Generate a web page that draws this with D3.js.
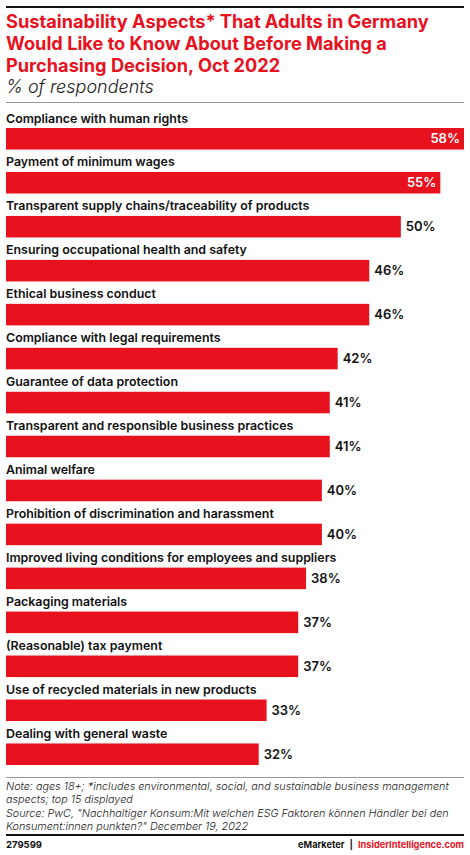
<!DOCTYPE html>
<html>
<head>
<meta charset="utf-8">
<script src="https://cdn.jsdelivr.net/npm/d3@7"></script>
<style>
  body { margin: 0; background: #fff; }
  text { font-family: Inter, Roboto, "Noto Sans", sans-serif; }
</style>
</head>
<body>
<svg id="chart" width="470" height="855"></svg>
<script>
const categories = [
    "Compliance with human rights",
    "Payment of minimum wages",
    "Transparent supply chains/traceability of products",
    "Ensuring occupational health and safety",
    "Ethical business conduct",
    "Compliance with legal requirements",
    "Guarantee of data protection",
    "Transparent and responsible business practices",
    "Animal welfare",
    "Prohibition of discrimination and harassment",
    "Improved living conditions for employees and suppliers",
    "Packaging materials",
    "(Reasonable) tax payment",
    "Use of recycled materials in new products",
    "Dealing with general waste"
];
const values = [58, 55, 50, 46, 46, 42, 41, 41, 40, 40, 38, 37, 37, 33, 32];

const titleLines = [
    "Sustainability Aspects* That Adults in Germany",
    "Would Like to Know About Before Making a",
    "Purchasing Decision, Oct 2022"
];
const subtitle = "% of respondents";
const noteLines = [
    "Note: ages 18+; *includes environmental, social, and sustainable business management",
    "aspects; top 15 displayed",
    "Source: PwC, \"Nachhaltiger Konsum:Mit welchen ESG Faktoren können Händler bei den",
    "Konsument:innen punkten?\" December 19, 2022"
];

const red = "#e8111e";
const svg = d3.select("#chart");

// header
svg.append("rect").attr("x", 6).attr("y", 6).attr("width", 458).attr("height", 2).attr("fill", "#111");
svg.selectAll(".title").data(titleLines).enter()
    .append("text")
    .attr("class", "title")
    .attr("x", 6)
    .attr("y", (d, i) => 28 + i * 22)
    .attr("fill", red)
    .attr("font-size", 18.2)
    .attr("font-weight", 700)
    .text(d => d);
svg.append("text")
    .attr("x", 6).attr("y", 93)
    .attr("font-size", 18)
    .attr("font-style", "italic")
    .attr("font-weight", 300)
    .attr("fill", "#222")
    .text(subtitle);
svg.append("rect").attr("x", 6).attr("y", 102).attr("width", 458).attr("height", 1).attr("fill", "#999");

// bars
const x = d3.scaleLinear().domain([0, 58]).range([6, 464]);
const y = d3.scaleBand().domain(categories).range([128, 765]).paddingInner(0.51).paddingOuter(0);

const rows = svg.selectAll(".row")
    .data(categories.map((c, i) => ({ cat: c, val: values[i] })))
    .enter()
    .append("g")
    .attr("class", "row");

rows.append("text")
    .attr("x", 6)
    .attr("y", d => y(d.cat) - 5.5)
    .attr("font-size", 12.4)
    .attr("font-weight", 600)
    .attr("fill", "#111")
    .text(d => d.cat);

rows.append("rect")
    .attr("x", x(0))
    .attr("y", d => y(d.cat))
    .attr("width", d => x(d.val) - x(0))
    .attr("height", y.bandwidth())
    .attr("fill", red);

rows.append("text")
    .attr("x", d => d.val >= 55 ? x(d.val) - 4 : x(d.val) + 5)
    .attr("y", d => y(d.cat) + y.bandwidth() / 2 + 4.5)
    .attr("text-anchor", d => d.val >= 55 ? "end" : "start")
    .attr("font-size", 13)
    .attr("font-weight", 600)
    .attr("fill", d => d.val >= 55 ? "#fff" : "#111")
    .text(d => d.val + "%");

// footer
svg.append("rect").attr("x", 6).attr("y", 777).attr("width", 458).attr("height", 1).attr("fill", "#999");
svg.selectAll(".note").data(noteLines).enter()
    .append("text")
    .attr("class", "note")
    .attr("x", 6)
    .attr("y", (d, i) => 790 + i * 13.4)
    .attr("font-size", 10.8)
    .attr("font-style", "italic")
    .attr("font-weight", 300)
    .attr("fill", "#222")
    .text(d => d);
svg.append("rect").attr("x", 6).attr("y", 834).attr("width", 458).attr("height", 2).attr("fill", "#111");
svg.append("text")
    .attr("x", 6).attr("y", 848)
    .attr("font-size", 9.5).attr("font-weight", 700).attr("fill", "#111")
    .text("279599");
const brand = svg.append("text")
    .attr("x", 464).attr("y", 848)
    .attr("text-anchor", "end")
    .attr("font-size", 9.2).attr("font-weight", 700);
brand.append("tspan").attr("fill", "#111").text("eMarketer");
brand.append("tspan").attr("fill", "#111").attr("dx", 5).text("|");
brand.append("tspan").attr("fill", red).attr("dx", 5).text("InsiderIntelligence.com");
</script>
</body>
</html>
